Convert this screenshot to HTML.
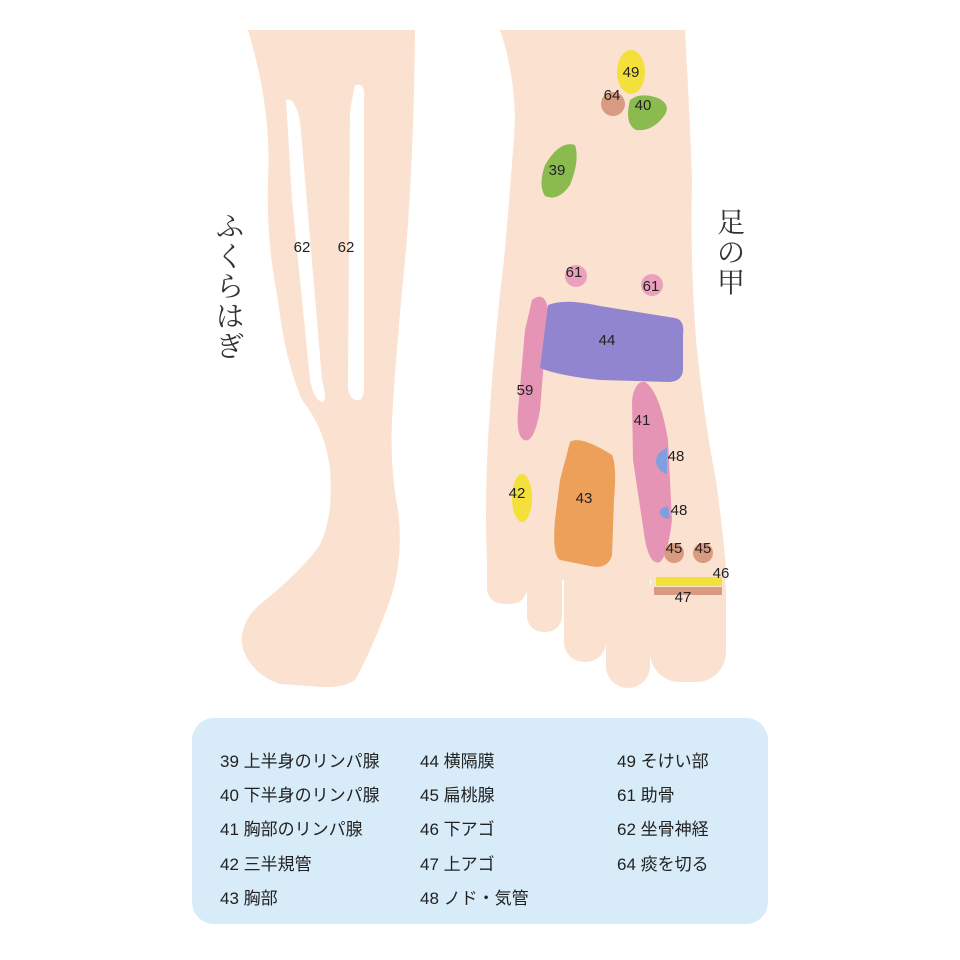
<!DOCTYPE html>
<html><head><meta charset="utf-8"><style>
body{margin:0;background:#fff;width:960px;height:960px;overflow:hidden;font-family:"Liberation Sans","Noto Sans CJK JP",sans-serif}
svg{position:absolute;left:0;top:0}
.lg{position:absolute;left:192px;top:718px;width:576px;height:206px;background:#d8ebf8;border-radius:22px}
.col{position:absolute;top:745px;font-size:17px;color:#222;line-height:34.2px;white-space:nowrap}
</style></head><body>
<svg width="960" height="960" font-family="Liberation Sans, sans-serif">
<g fill="#fbe1d0">
<path d="M248,30 L415,30 Q414,150 406,250 Q396,350 392,420 Q390,470 398,510 Q404,560 390,600 Q372,650 355,680 Q340,690 310,686 L280,684 Q255,676 244,652 Q236,628 258,606 Q296,576 318,548 Q334,520 330,470 Q326,430 302,400 Q285,360 278,300 Q266,240 268,180 Q272,110 248,30 Z"/>
<path d="M500,30 L685,30 Q690,120 692,180 Q690,260 696,340 Q704,420 716,480 Q724,540 726,570 L726,580 L488,580 Q484,520 488,440 Q494,340 504,260 Q512,170 515,120 Q514,70 500,30 Z"/>
<rect x="487" y="540" width="40" height="64" rx="16"/>
<rect x="527" y="560" width="35" height="72" rx="16"/>
<rect x="564" y="560" width="42" height="102" rx="20"/>
<rect x="606" y="560" width="44" height="128" rx="22"/>
<rect x="650" y="560" width="76" height="122" rx="30"/>
<rect x="492" y="540" width="228" height="30"/>
</g>
<g fill="#fff">
<path d="M286,100 Q294,96 300,120 L322,380 Q328,402 322,402 Q314,400 310,380 L292,200 Z"/>
<path d="M355,85 Q366,82 364,100 L364,388 Q364,402 356,400 Q348,398 348,385 L350,110 Z"/>
</g>
<ellipse cx="631" cy="72" rx="14" ry="22" fill="#f4e03b"/>
<circle cx="613" cy="104" r="12" fill="#d89a80"/>
<path d="M630,100 Q640,92 658,98 Q672,105 664,116 Q652,132 636,130 Q624,124 630,100Z" fill="#8bba4f"/>
<path d="M545,165 Q560,140 575,145 Q580,160 570,185 Q558,202 545,196 Q538,185 545,165Z" fill="#8bba4f"/>
<circle cx="576" cy="276" r="11" fill="#e9a1bd"/>
<circle cx="652" cy="285" r="11" fill="#e9a1bd"/>
<path d="M532,300 Q545,290 548,310 L540,410 Q534,444 524,440 Q516,436 518,410 L525,330Z" fill="#e694b5"/>
<path d="M548,305 Q565,298 600,306 L675,318 Q685,320 683,335 L683,370 Q682,382 668,382 L600,380 Q560,376 540,368Z" fill="#9285d0"/>
<path d="M632,400 Q635,380 645,382 Q660,392 668,440 L672,520 Q668,555 660,562 Q650,566 645,540 L633,460Z" fill="#e694b5"/>
<path d="M570,442 Q580,435 612,455 Q617,465 614,500 L612,555 Q608,570 590,566 L560,560 Q552,555 555,520 L560,480Z" fill="#eda05a"/>
<ellipse cx="522" cy="498" rx="10" ry="24" fill="#f4e03b"/>
<path d="M667,448 Q656,452 656,462 Q658,472 667,474Z" fill="#7f9fe0"/>
<path d="M668,506 Q658,508 660,514 Q664,520 670,518Z" fill="#7f9fe0"/>
<circle cx="674" cy="553" r="10" fill="#d89a80"/>
<circle cx="703" cy="553" r="10" fill="#d89a80"/>
<rect x="656" y="577" width="66" height="9" fill="#f4e03b"/>
<rect x="654" y="587" width="68" height="8" fill="#d89a80"/>
<g font-size="15" fill="#222" text-anchor="middle">
<text x="631" y="77">49</text><text x="612" y="100">64</text><text x="643" y="110">40</text>
<text x="557" y="175">39</text><text x="574" y="277">61</text><text x="651" y="291">61</text>
<text x="607" y="345">44</text><text x="525" y="395">59</text><text x="642" y="425">41</text>
<text x="676" y="461">48</text><text x="679" y="515">48</text><text x="584" y="503">43</text>
<text x="517" y="498">42</text><text x="674" y="553">45</text><text x="703" y="553">45</text>
<text x="721" y="578">46</text><text x="683" y="602">47</text>
<text x="302" y="252">62</text><text x="346" y="252">62</text>
</g>
<g font-family="Liberation Serif, Noto Serif CJK SC, serif" font-size="28" fill="#333" text-anchor="middle">
<text x="230" y="236">ふ</text><text x="230" y="266">く</text><text x="230" y="296">ら</text><text x="230" y="326">は</text><text x="230" y="356">ぎ</text>
<text x="731" y="232">足</text><text x="731" y="262">の</text><text x="731" y="292">甲</text>
</g>
</svg>
<div class="lg"></div>
<div class="col" style="left:220px">39 上半身のリンパ腺<br>40 下半身のリンパ腺<br>41 胸部のリンパ腺<br>42 三半規管<br>43 胸部</div>
<div class="col" style="left:420px">44 横隔膜<br>45 扁桃腺<br>46 下アゴ<br>47 上アゴ<br>48 ノド・気管</div>
<div class="col" style="left:617px">49 そけい部<br>61 助骨<br>62 坐骨神経<br>64 痰を切る</div>
</body></html>
